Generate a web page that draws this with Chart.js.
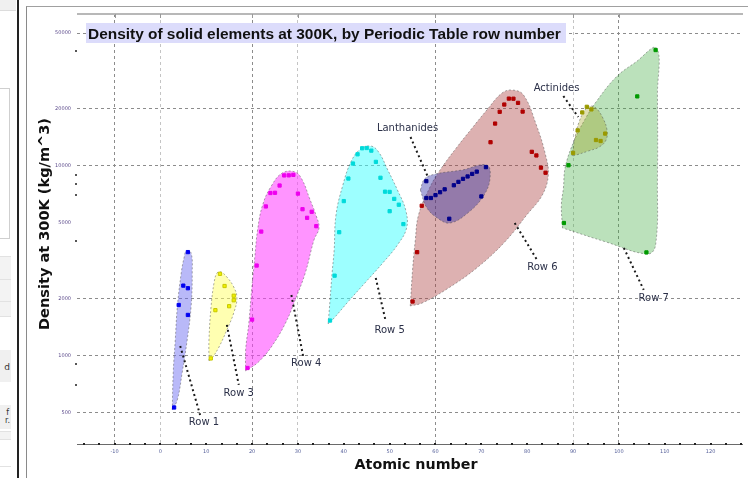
<!DOCTYPE html>
<html><head><meta charset="utf-8">
<script src="https://cdn.jsdelivr.net/npm/chart.js@4.4.1/dist/chart.umd.min.js"></script>
<style>
html,body{margin:0;padding:0;background:#fff;width:748px;height:478px;overflow:hidden;}
#wrap{position:relative;width:748px;height:478px;overflow:hidden;}
.p{position:absolute;box-sizing:border-box;}
canvas{position:absolute;left:0;top:0;}
</style></head><body>
<div id="wrap">
 <div class="p" style="left:0;top:0;width:16px;height:11px;background:#f0f0f0;border-bottom:1px solid #dcdcdc"></div>
 <div class="p" style="left:-1px;top:88px;width:11px;height:151px;border:1px solid #cfcfcf;background:#fff"></div>
 <div class="p" style="left:0;top:256px;width:11px;height:23px;background:#f3f3f3;border-top:1px solid #e2e2e2"></div>
 <div class="p" style="left:0;top:279px;width:11px;height:22px;background:#f3f3f3;border-top:1px solid #e2e2e2"></div>
 <div class="p" style="left:0;top:301px;width:11px;height:16px;background:#f3f3f3;border-top:1px solid #e2e2e2;border-bottom:1px solid #e2e2e2"></div>
 <div class="p" style="left:0;top:350px;width:11px;height:32px;background:#f0f0f0;font:9px 'DejaVu Sans';color:#333;overflow:hidden"><span style="position:absolute;right:1px;top:12px">d</span></div>
 <div class="p" style="left:0;top:405px;width:11px;height:24px;background:#f0f0f0;font:8px 'DejaVu Sans';color:#333;overflow:hidden"><span style="position:absolute;right:2px;top:3px">f</span><span style="position:absolute;right:1px;top:11px">r.</span></div>
 <div class="p" style="left:0;top:431px;width:11px;height:9px;background:#f3f3f3;border-top:1px solid #e2e2e2;border-bottom:1px solid #e2e2e2"></div>
 <div class="p" style="left:0;top:466px;width:11px;height:12px;border-top:1px solid #e2e2e2"></div>
 <div class="p" style="left:17px;top:0;width:2px;height:478px;background:#222"></div>
 <div class="p" style="left:26px;top:6px;width:722px;height:472px;border-left:1px solid #8a8a8a;border-top:1px solid #a0a0a0"></div>
 <canvas id="c" width="748" height="478"></canvas>
</div>
<script>
// ---------- data: [atomic number, density kg/m^3] ----------
const row1Points = [[3,534],[4,1850],[5,2340],[6,2267],[6,1640],[6,3513]];
const row3Points = [[11,968],[12,1738],[13,2700],[14,2329],[15,1823],[16,2070],[16,1960]];
const row4Points = [[19,862],[20,1550],[21,2985],[22,4506],[23,6110],[24,7190],[25,7210],[26,7874],[27,8900],[28,8908],[29,8960],[30,7140],[31,5910],[32,5323],[33,5727],[34,4810]];
const row5Points = [[37,1532],[38,2640],[39,4472],[40,6520],[41,8570],[42,10280],[43,11500],[44,12370],[45,12410],[46,12020],[47,10490],[48,8650],[49,7310],[50,7287],[50,5769],[51,6697],[52,6240],[53,4933]];
const row6Points = [[55,1930],[56,3510],[57,6162],[72,13310],[73,16690],[74,19250],[75,21020],[76,22590],[77,22560],[78,21450],[79,19300],[81,11850],[82,11340],[83,9780],[84,9196]];
const lanthanidePoints = [[58,8300],[58,6770],[59,6770],[60,7010],[61,7260],[62,7520],[63,5264],[64,7900],[65,8230],[66,8540],[67,8790],[68,9066],[69,9320],[70,6900],[71,9841]];
const row7Points = [[88,5000],[89,10070],[104,23200],[106,3500],[108,40700]];
const actinidePoints = [[90,11700],[91,15370],[92,19100],[93,20450],[94,19816],[95,13670],[96,13510],[97,14780]];

// hull outlines, same units
const row1Hull = [[2.6,519],[2.8,812],[3.25,1211],[3.7,1807],[4.55,2728],[5.2,3311],[5.65,3561],[6.7,3476],[6.95,2728],[6.7,1807],[5.85,1211],[4.75,812],[3.7,585]];
const row3Hull = [[10.6,939],[10.6,1211],[11.05,1807],[11.7,2417],[12.35,2728],[13.2,2761],[14.5,2599],[16.0,2302],[16.7,2015],[16.0,1680],[14.5,1367],[12.8,1113],[11.3,974]];
const row4Hull = [[18.6,832],[18.6,1073],[19.3,1488],[19.9,2221],[20.6,3311],[21.2,4594],[22.3,6220],[24.2,7830],[26.6,9168],[29.4,9278],[30.95,8419],[32.5,6770],[34.0,5442],[34.6,4707],[33.5,4069],[31.6,2728],[29.4,1967],[27.3,1488],[24.2,1113],[21.4,927],[19.3,852]];
const row5Hull = [[36.6,1471],[37.0,1967],[37.45,2728],[37.9,3606],[38.3,5510],[39.8,7925],[41.55,10480],[43.5,12160],[45.9,12713],[47.6,11822],[49.6,9504],[51.7,7460],[53.5,5853],[53.7,4707],[51.7,3830],[48.5,3080],[44.8,2446],[40.9,1920],[37.9,1581]];
const row6Hull = [[54.5,1829],[55.0,2829],[55.6,4069],[56.3,5510],[58.7,7642],[61.0,9504],[64.7,12560],[68.0,15813],[71.2,19665],[74.5,24160],[76.8,25060],[79.2,23590],[82.0,16400],[84.0,11400],[84.6,8947],[83.3,7021],[79.9,5510],[75.1,3972],[69.0,2899],[62.5,2246],[57.1,1896]];
const lanthanideHull = [[56.7,7460],[57.6,8521],[60.0,9055],[65.8,9504],[71.2,10100],[71.9,8625],[70.6,7021],[67.3,5714],[63.2,5000],[60.4,5313],[58.0,6071]];
const row7Hull = [[87.7,4707],[87.45,6220],[87.9,7642],[88.3,9855],[90.3,13670],[92.9,18070],[95.0,21670],[99.4,29340],[103.7,35190],[108.2,41690],[108.4,23590],[108.4,8419],[108.0,3830],[106.3,3434],[97.2,3972]];
const actinideHull = [[89.8,11260],[90.3,13670],[91.3,17010],[92.6,19665],[93.7,20640],[95.0,20150],[96.5,17850],[97.4,15430],[97.2,13670],[95.7,12560],[93.3,11960],[90.7,11400]];

// axis ticks
const xTicks = [-10,0,10,20,30,40,50,60,70,80,90,100,110,120];
const xGridDark = [-10,20,60,100];
const xGridLight = [0,30,90];
const yTicks = [500,1000,2000,5000,10000,20000,50000];
const yGridValues = [500,1000,2000,10000,20000,50000];
const yMinor = [700,900,4000,7000,8000,9000,40000];

// labels: text, text anchor, leader start, leader end
const notes = [
  {text:'Row 1', at:[9.5,443], from:[4.33,1126], to:[8.66,488]},
  {text:'Row 3', at:[17.1,637], from:[14.5,1453], to:[17.1,702]},
  {text:'Row 4', at:[31.8,906], from:[28.57,2089], to:[31.17,985]},
  {text:'Row 5', at:[50.0,1367], from:[46.97,2568], to:[49.13,1525]},
  {text:'Row 6', at:[83.3,2934], from:[77.27,5000], to:[82.03,3232]},
  {text:'Row 7', at:[107.6,2015], from:[101.08,3694], to:[105.41,2221]},
  {text:'Lanthanides', at:[53.9,15810], from:[54.55,14180], to:[58.44,8625]},
  {text:'Actinides', at:[86.4,25680], from:[87.88,23300], to:[91.13,18070]}
];
const titleText = 'Density of solid elements at 300K, by Periodic Table row number';
const xTitle = 'Atomic number';
const yTitle = 'Density at 300K (kg/m^3)';

const toXY = a => a.map(([x,y]) => ({x, y}));
const closed = a => toXY(a.concat([a[0]]));

function hull(data, fill, order){
  return {data: closed(data), showLine:true, fill:'shape', backgroundColor:fill,
    borderColor:'rgba(70,70,70,0.45)', borderWidth:1, borderDash:[2,2],
    pointRadius:0, pointHoverRadius:0, tension:0.4, order};
}
function marks(data, color, border){
  return {data: toXY(data), showLine:false, pointStyle:'rect', pointRadius:2.3,
    backgroundColor:color, borderColor:border||color, borderWidth:1, order:0};
}

const datasets = [
  hull(row1Hull,'rgba(100,100,240,0.45)',2),
  hull(row3Hull,'rgba(255,255,100,0.5)',2),
  hull(row4Hull,'rgba(255,60,255,0.55)',2),
  hull(row5Hull,'rgba(60,255,255,0.5)',2),
  hull(row6Hull,'rgba(170,60,60,0.4)',2),
  hull(row7Hull,'rgba(60,170,60,0.35)',2),
  hull(lanthanideHull,'rgba(40,40,160,0.4)',1),
  hull(actinideHull,'rgba(150,150,0,0.3)',1),
  marks(row1Points,'#0000f0'),
  marks(row3Points,'#f0f000','#c8c800'),
  marks(row4Points,'#ee00ee'),
  marks(row5Points,'#00dada'),
  marks(row6Points,'#b00000'),
  marks(lanthanidePoints,'#00008b'),
  marks(row7Points,'#009a00'),
  marks(actinidePoints,'#9a9a00')
];

const deco = {
  id:'deco',
  afterDatasetsDraw(chart){
    const {ctx, chartArea:a, scales:{x, y}} = chart;
    ctx.save();
    ctx.strokeStyle = '#6a6a6a'; ctx.lineWidth = 1; ctx.setLineDash([]);
    ctx.beginPath(); ctx.moveTo(a.left, a.bottom + 0.5); ctx.lineTo(a.right, a.bottom + 0.5); ctx.stroke();
    ctx.fillStyle = '#222';
    for (let v = -50/3; v < x.max; v += 10/3) {
      const px = x.getPixelForValue(v);
      if (px >= a.left) ctx.fillRect(Math.round(px) - 1, a.bottom - 1, 2, 2);
    }
    ctx.fillStyle = '#555';
    yMinor.forEach(v => { const py = y.getPixelForValue(v); ctx.fillRect(a.left - 2, Math.round(py) - 1, 2, 2); });
    ctx.strokeStyle = '#b8b8b8'; ctx.lineWidth = 2;
    ctx.beginPath(); ctx.moveTo(a.left, a.top); ctx.lineTo(a.right, a.top); ctx.stroke();
    ctx.strokeStyle = '#999'; ctx.lineWidth = 1;
    xGridDark.concat(xGridLight).forEach(v => {
      const px = Math.round(x.getPixelForValue(v)) + 0.5;
      ctx.beginPath(); ctx.moveTo(px, a.top); ctx.lineTo(px, a.top + 4); ctx.stroke();
    });
    ctx.strokeStyle = '#1a1a1a'; ctx.lineWidth = 2; ctx.setLineDash([2,3]); ctx.lineCap = 'butt';
    notes.forEach(n => {
      ctx.beginPath();
      ctx.moveTo(x.getPixelForValue(n.from[0]), y.getPixelForValue(n.from[1]));
      ctx.lineTo(x.getPixelForValue(n.to[0]), y.getPixelForValue(n.to[1]));
      ctx.stroke();
    });
    ctx.setLineDash([]);
    ctx.font = '10px "DejaVu Sans"'; ctx.fillStyle = '#2b3048'; ctx.textAlign = 'center'; ctx.textBaseline = 'middle';
    notes.forEach(n => ctx.fillText(n.text, x.getPixelForValue(n.at[0]), y.getPixelForValue(n.at[1])));
    ctx.font = 'bold 15px "Liberation Sans"';
    let w = ctx.measureText(titleText).width;
    const fs = 15 * 473 / w;
    ctx.font = 'bold ' + fs.toFixed(2) + 'px "Liberation Sans"';
    ctx.fillStyle = '#dcdcfb';
    ctx.fillRect(86, 23, 480, 20);
    ctx.fillStyle = '#111'; ctx.textAlign = 'left'; ctx.textBaseline = 'alphabetic';
    ctx.fillText(titleText, 88, 38.5);
    ctx.restore();
  },
  afterDraw(chart){
    const {ctx} = chart;
    ctx.save();
    ctx.fillStyle = '#111';
    ctx.textAlign = 'center'; ctx.textBaseline = 'middle';
    ctx.font = 'bold 14px "DejaVu Sans"';
    let w = ctx.measureText(xTitle).width;
    ctx.font = 'bold ' + (14 * 123 / w).toFixed(2) + 'px "DejaVu Sans"';
    ctx.fillText(xTitle, 416, 465);
    ctx.font = 'bold 14px "DejaVu Sans"';
    w = ctx.measureText(yTitle).width;
    ctx.font = 'bold ' + (14 * 212 / w).toFixed(2) + 'px "DejaVu Sans"';
    ctx.translate(45, 224); ctx.rotate(-Math.PI/2);
    ctx.fillText(yTitle, 0, 0);
    ctx.restore();
  }
};

new Chart(document.getElementById('c'), {
  type:'scatter',
  data:{datasets},
  options:{
    responsive:false, devicePixelRatio:1, animation:false, events:[],
    layout:{padding:{left:0, right:0, top:14, bottom:0}},
    plugins:{legend:{display:false}, tooltip:{enabled:false}, title:{display:false}},
    elements:{line:{cubicInterpolationMode:'default'}},
    scales:{
      x:{type:'linear', min:-18.18, max:127.06,
        afterBuildTicks(s){ s.ticks = xTicks.map(v => ({value:v})); },
        afterFit(s){ s.height = 34; },
        grid:{drawTicks:false, lineWidth:1,
          color: c => xGridDark.includes(c.tick.value) ? '#8c8c8c' : (xGridLight.includes(c.tick.value) ? '#c4c4c4' : 'rgba(0,0,0,0)')},
        border:{display:false, dash:[3,3]},
        ticks:{font:{size:5, family:'DejaVu Sans'}, color:'#56609a', padding:5, maxRotation:0, autoSkip:false,
          callback: v => String(v)}
      },
      y:{type:'logarithmic', min:343, max:63000,
        afterBuildTicks(s){ s.ticks = yTicks.map(v => ({value:v})); },
        afterFit(s){ s.width = 77; },
        grid:{drawTicks:false, lineWidth:1,
          color: c => yGridValues.includes(c.tick.value) ? '#8c8c8c' : 'rgba(0,0,0,0)'},
        border:{display:false, dash:[3,3]},
        ticks:{font:{size:5, family:'DejaVu Sans'}, color:'#5b4a8b', padding:6, autoSkip:false,
          callback: v => String(v)}
      }
    }
  },
  plugins:[deco]
});
</script>
</body></html>
